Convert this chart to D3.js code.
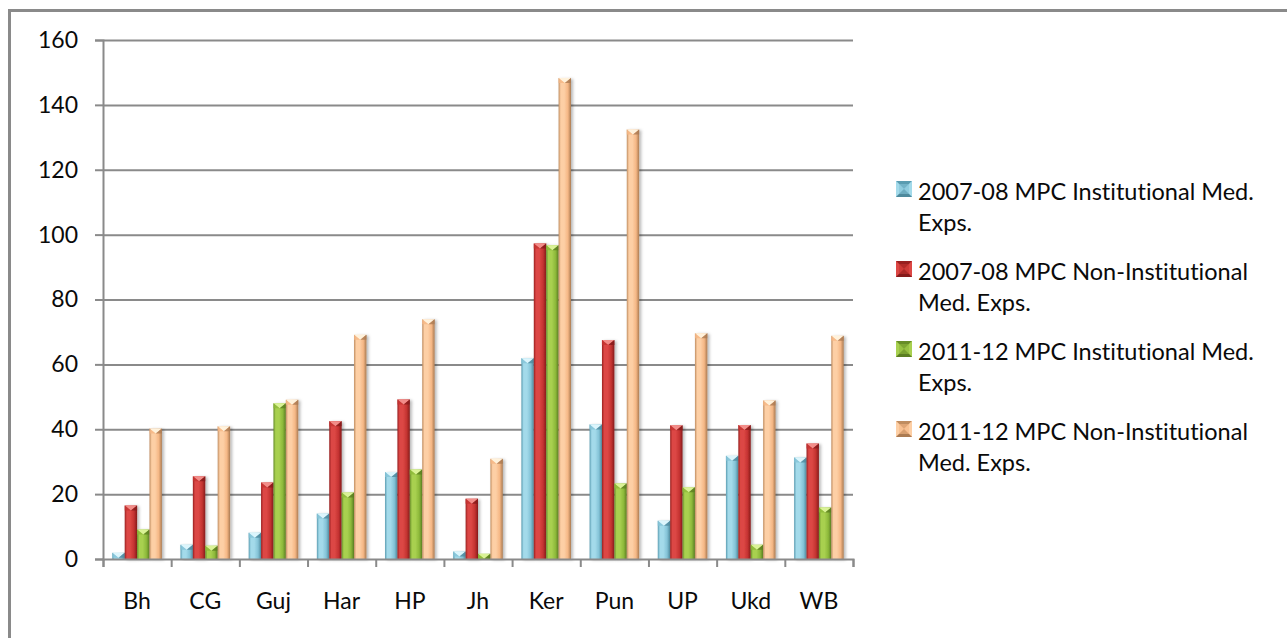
<!DOCTYPE html>
<html>
<head>
<meta charset="utf-8">
<script src="https://cdn.jsdelivr.net/npm/d3@7"></script>
<style>
  html, body { margin: 0; padding: 0; background: #fff; }
  svg { display: block; }
  text { font-family: Lato, "Open Sans", sans-serif; fill: #0a0a0a; font-variant-ligatures: none; font-feature-settings: "liga" 0, "clig" 0; }
</style>
</head>
<body>
<svg id="chart" width="1287" height="638"></svg>
<script>
// States
const categories = ["Bh", "CG", "Guj", "Har", "HP", "Jh", "Ker", "Pun", "UP", "Ukd", "WB"];

// Monthly per capita medical expenditure series
const inst0708    = [1.9, 4.4, 8.1, 14.0, 26.8, 2.3, 61.9, 41.5, 11.8, 31.8, 31.3];
const nonInst0708 = [16.5, 25.5, 23.6, 42.5, 49.2, 18.6, 97.3, 67.5, 41.2, 41.3, 35.6];
const inst1112    = [9.1, 4.1, 48.0, 20.5, 27.6, 1.6, 96.7, 23.3, 22.1, 4.4, 15.9];
const nonInst1112 = [40.2, 40.9, 49.1, 69.1, 73.9, 30.9, 148.3, 132.4, 69.6, 48.9, 68.8];

const seriesNames = [
  ["2007-08 MPC Institutional Med.", "Exps."],
  ["2007-08 MPC Non-Institutional", "Med. Exps."],
  ["2011-12 MPC Institutional Med.", "Exps."],
  ["2011-12 MPC Non-Institutional", "Med. Exps."]
];

const yTicks = [0, 20, 40, 60, 80, 100, 120, 140, 160];

// Shading per series: dark edge, light, base, dark edge, cap
const palettes = [
  { dark: "#5a9cb1", light: "#a3daea", base: "#84c3d7", edge: "#4f8a9d", cap: "#dcf5fc" },
  { dark: "#982020", light: "#dc4744", base: "#c43331", edge: "#861b1b", cap: "#f28d89" },
  { dark: "#678d27", light: "#a8d050", base: "#8db93a", edge: "#5b7e22", cap: "#daf296" },
  { dark: "#c08d60", light: "#fdcfa5", base: "#f5b785", edge: "#ab7b52", cap: "#fff2dc" }
];

const series = [inst0708, nonInst0708, inst1112, nonInst1112];

const svg = d3.select("#chart");
const defs = svg.append("defs");

palettes.forEach((p, i) => {
  const g = defs.append("linearGradient")
    .attr("id", "barGrad" + i)
    .attr("x1", "0").attr("x2", "1").attr("y1", "0").attr("y2", "0");
  g.append("stop").attr("offset", "0%").attr("stop-color", p.dark);
  g.append("stop").attr("offset", "18%").attr("stop-color", p.light);
  g.append("stop").attr("offset", "45%").attr("stop-color", p.light);
  g.append("stop").attr("offset", "75%").attr("stop-color", p.base);
  g.append("stop").attr("offset", "100%").attr("stop-color", p.edge);
});

const shadow = defs.append("filter").attr("id", "barShadow")
  .attr("x", "-50%").attr("y", "-10%").attr("width", "200%").attr("height", "120%");
shadow.append("feDropShadow")
  .attr("dx", 2).attr("dy", 1).attr("stdDeviation", 1.6)
  .attr("flood-color", "#000").attr("flood-opacity", 0.28);

// Outer frame
svg.append("rect")
  .attr("x", 9.5).attr("y", 10.5)
  .attr("width", 1300).attr("height", 660)
  .attr("fill", "none")
  .attr("stroke", "#8a8a8a")
  .attr("stroke-width", 3);

const plotLeft = 103, plotRight = 853, plotTop = 40, plotBottom = 559;

const y = d3.scaleLinear().domain([0, 160]).range([plotBottom, plotTop]);
const x0 = d3.scaleBand().domain(categories).range([plotLeft, plotRight]).paddingInner(0).paddingOuter(0);
const barW = x0.bandwidth() / 5.5;
const x1 = d3.scaleBand().domain(d3.range(4)).range([0, barW * 4]).padding(0);
const groupOffset = barW * 0.75;

// Gridlines
svg.append("g")
  .attr("transform", `translate(${plotLeft},0)`)
  .call(d3.axisLeft(y).tickValues(yTicks.filter(d => d > 0)).tickSize(-(plotRight - plotLeft)).tickFormat(""))
  .call(g => g.select(".domain").remove())
  .call(g => g.selectAll("line").attr("stroke", "#8a8a8a").attr("stroke-width", 2));

// Bars
const groups = svg.append("g").selectAll("g")
  .data(categories)
  .join("g")
  .attr("transform", d => `translate(${x0(d) + groupOffset},0)`);

groups.each(function (cat, ci) {
  const g = d3.select(this);
  series.forEach((vals, si) => {
    const v = vals[ci];
    const bx = x1(si);
    const by = y(v);
    const bh = y(0) - y(v);
    const w = x1.bandwidth();
    const bar = g.append("g").attr("filter", "url(#barShadow)");
    bar.append("rect")
      .attr("x", bx).attr("y", by)
      .attr("width", w).attr("height", bh)
      .attr("fill", `url(#barGrad${si})`);
    const capH = Math.min(5, bh);
    bar.append("path")
      .attr("d", `M${bx},${by} L${bx + w},${by} L${bx + w / 2},${by + capH} Z`)
      .attr("fill", palettes[si].cap);
    bar.append("path")
      .attr("d", `M${bx},${by} L${bx + w / 2},${by + capH} L${bx},${by + capH} Z`)
      .attr("fill", palettes[si].base).attr("opacity", 0.8);
    bar.append("path")
      .attr("d", `M${bx + w},${by} L${bx + w / 2},${by + capH} L${bx + w},${by + capH} Z`)
      .attr("fill", palettes[si].edge).attr("opacity", 0.8);
  });
});

// Y axis with labels
svg.append("g")
  .attr("transform", `translate(${plotLeft},0)`)
  .call(d3.axisLeft(y).tickValues(yTicks).tickSize(8).tickPadding(17).tickFormat(d3.format("d")))
  .call(g => g.select(".domain").attr("stroke", "#8a8a8a").attr("stroke-width", 2))
  .call(g => g.selectAll("line").attr("stroke", "#8a8a8a").attr("stroke-width", 2))
  .call(g => g.selectAll("text")
    .attr("font-family", "Lato, 'Open Sans', sans-serif")
    .attr("font-size", 23).attr("fill", "#0a0a0a"));

// X axis: boundary ticks
const xEdge = d3.scaleLinear().domain([0, categories.length]).range([plotLeft, plotRight]);
svg.append("g")
  .attr("transform", `translate(0,${plotBottom})`)
  .call(d3.axisBottom(xEdge).tickValues(d3.range(categories.length + 1)).tickSize(8).tickFormat(""))
  .call(g => g.select(".domain").attr("stroke", "#8a8a8a").attr("stroke-width", 2))
  .call(g => g.selectAll("line").attr("stroke", "#8a8a8a").attr("stroke-width", 2));

// X axis: category labels
svg.append("g")
  .attr("transform", `translate(0,${plotBottom})`)
  .call(d3.axisBottom(x0).tickSize(0).tickPadding(34))
  .call(g => g.select(".domain").remove())
  .call(g => g.selectAll("text")
    .attr("font-family", "Lato, 'Open Sans', sans-serif")
    .attr("font-size", 23).attr("fill", "#0a0a0a"));

// Legend
const legendBaselines = [200, 280, 360, 440];
const legend = svg.append("g");
seriesNames.forEach((lines, i) => {
  const base = legendBaselines[i];
  const p = palettes[i];
  const mx = 896, my = base - 19, ms = 16;
  const m = legend.append("g");
  m.append("rect").attr("x", mx).attr("y", my).attr("width", ms).attr("height", ms).attr("fill", p.base);
  // Bevelled marker facets
  m.append("path").attr("d", `M${mx},${my} L${mx + ms},${my} L${mx + ms / 2},${my + ms / 2} Z`).attr("fill", p.dark);
  m.append("path").attr("d", `M${mx},${my} L${mx + ms / 2},${my + ms / 2} L${mx},${my + ms} Z`).attr("fill", p.light);
  m.append("path").attr("d", `M${mx + ms},${my} L${mx + ms / 2},${my + ms / 2} L${mx + ms},${my + ms} Z`).attr("fill", p.light);
  m.append("path").attr("d", `M${mx},${my + ms} L${mx + ms / 2},${my + ms / 2} L${mx + ms},${my + ms} Z`).attr("fill", p.edge);
  m.append("rect").attr("x", mx + 3).attr("y", my + 3).attr("width", ms - 6).attr("height", ms - 6).attr("fill", p.base).attr("opacity", 0.6);
  const t = legend.append("text")
    .attr("x", 918).attr("y", base)
    .attr("font-size", 23.5);
  lines.forEach((ln, li) => {
    t.append("tspan").attr("x", 918).attr("y", base + li * 31).text(ln);
  });
});
</script>
</body>
</html>
